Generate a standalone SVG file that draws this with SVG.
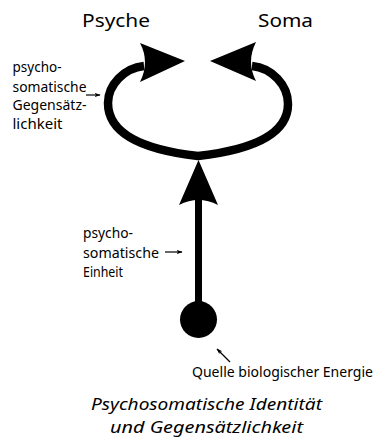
<svg xmlns="http://www.w3.org/2000/svg" width="380" height="446" viewBox="0 0 380 446">
<style>
text{font-family:"Noto Sans","Open Sans","Liberation Sans",sans-serif;font-weight:400;fill:#000}
.big{font-size:18px}
.lbl{font-size:13.5px}
.src{font-size:14.5px}
.ttl{font-size:16.5px;font-style:italic}
.thin{stroke:#000;stroke-width:1.2;fill:none}
.head{fill:#000;stroke:none}
</style>
<defs>
<marker id="sm" viewBox="0 0 10 10" refX="9" refY="5" markerWidth="6" markerHeight="6" markerUnits="userSpaceOnUse" orient="auto">
<path d="M0,1.5 L10,5 L0,8.5 L2.5,5 Z" fill="#000"/>
</marker>
</defs>
<rect width="380" height="446" fill="#fff"/>
<g id="connectors">
<path id="loop" d="M144,66 C124,68 108,85 108,103 C108,135 145,150 198,156 C251,150 288,135 288,104 C288,85 272,68 252,66" fill="none" stroke="#000" stroke-width="8.5"/>
<path d="M185,61 L140,43 Q150,62 140,82 Z" class="head"/>
<path d="M210,61 L256,42 Q246,62 256,81 Z" class="head"/>
<line x1="198.5" y1="305" x2="198.5" y2="198" stroke="#000" stroke-width="7"/>
<path d="M198.5,160 L218,205 Q198.5,195 179,205 Z" class="head"/>
<line class="thin" x1="86" y1="95" x2="100" y2="95" marker-end="url(#sm)"/>
<line class="thin" x1="165" y1="252" x2="182" y2="252" marker-end="url(#sm)"/>
<line class="thin" x1="230" y1="362" x2="217" y2="349" marker-end="url(#sm)"/>
</g>
<g id="source">
<circle cx="198.5" cy="319.5" r="18.5" fill="#000"/>
</g>
<g id="psyche"><text class="big" x="82" y="27" textLength="68" lengthAdjust="spacingAndGlyphs">Psyche</text></g>
<g id="soma"><text class="big" x="258" y="27" textLength="55" lengthAdjust="spacingAndGlyphs">Soma</text></g>
<g id="label-gegensaetzlichkeit">
<text class="lbl" x="12.5" y="72" textLength="49" lengthAdjust="spacingAndGlyphs">psycho-</text>
<text class="lbl" x="12.5" y="92" textLength="74" lengthAdjust="spacingAndGlyphs">somatische</text>
<text class="lbl" x="12.5" y="110" textLength="74" lengthAdjust="spacingAndGlyphs">Gegensätz-</text>
<text class="lbl" x="12.5" y="129" textLength="50" lengthAdjust="spacingAndGlyphs">lichkeit</text>
</g>
<g id="label-einheit">
<text class="lbl" x="83" y="238" textLength="50" lengthAdjust="spacingAndGlyphs">psycho-</text>
<text class="lbl" x="83" y="258" textLength="76" lengthAdjust="spacingAndGlyphs">somatische</text>
<text class="lbl" x="83" y="277" textLength="40" lengthAdjust="spacingAndGlyphs">Einheit</text>
</g>
<g id="label-quelle">
<text class="src" x="192" y="377" textLength="181" lengthAdjust="spacingAndGlyphs">Quelle biologischer Energie</text>
</g>
<g id="title">
<text class="ttl" x="91" y="410" textLength="231" lengthAdjust="spacingAndGlyphs">Psychosomatische Identität</text>
<text class="ttl" x="110" y="433" textLength="193" lengthAdjust="spacingAndGlyphs">und Gegensätzlichkeit</text>
</g>
</svg>
